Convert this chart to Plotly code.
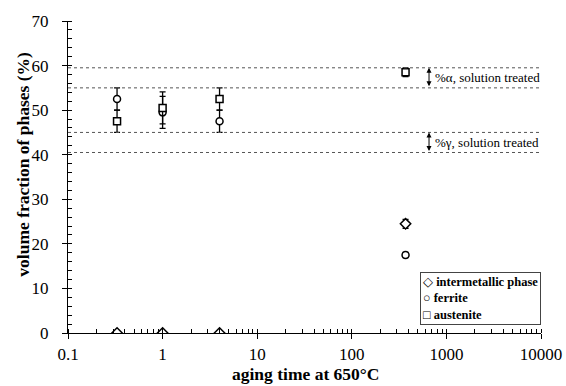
import plotly.graph_objects as go
import math

# Data
time_h = [0.33, 1, 4, 370]
intermetallic = [0, 0, 0, 24.5]
intermetallic_err = [0, 0, 0, 1.0]
ferrite = [52.5, 49.5, 47.5, 17.5]
ferrite_err = [2.5, 3.6, 2.5, 0.6]
austenite = [47.5, 50.5, 52.5, 58.5]
austenite_err = [2.5, 3.6, 2.5, 1.0]

alpha_band = [55, 59.5]
gamma_band = [40.5, 45]
alpha_label = "%α, solution treated"
gamma_label = "%γ, solution treated"
legend_names = ["intermetallic phase", "ferrite", "austenite"]
legend_symbols = ["◇", "○", "□"]
x_tickvals = [0.1, 1, 10, 100, 1000, 10000]
x_ticktext = ["0.1", "1", "10", "100", "1000", "10000"]
x_title = "aging time at 650°C"
y_title = "volume fraction of phases (%)"

FONT = "Liberation Serif, Times New Roman, serif"

fig = go.Figure()

def add(name, y, err, symbol, size):
    fig.add_trace(go.Scatter(
        x=time_h, y=y, mode="markers", name=name, showlegend=False,
        marker=dict(symbol=symbol, size=size, color="white",
                    line=dict(color="black", width=1.5)),
        error_y=dict(type="data", array=err, visible=True,
                     color="black", thickness=1.3, width=3),
    ))

add(legend_names[0], intermetallic, intermetallic_err, "diamond", 8)
add(legend_names[1], ferrite, ferrite_err, "circle", 7)
add(legend_names[2], austenite, austenite_err, "square", 7)

# invisible trace for overlay axes (crossing major ticks)
fig.add_trace(go.Scatter(x=[0.1], y=[0], xaxis="x2", yaxis="y2", mode="markers",
                         marker=dict(opacity=0), showlegend=False, hoverinfo="skip"))

# dotted reference lines
for yv in alpha_band + gamma_band:
    fig.add_shape(type="line", xref="paper", yref="y", x0=0, x1=1, y0=yv, y1=yv,
                  line=dict(color="#555", width=1, dash="dot"))

arrow_x = math.log10(655)
text_x = math.log10(720)
for band, label in [(alpha_band, alpha_label), (gamma_band, gamma_label)]:
    fig.add_annotation(x=arrow_x, y=band[1], ax=arrow_x, ay=band[0],
                       xref="x", yref="y", axref="x", ayref="y",
                       text="", showarrow=True, arrowhead=2, arrowside="end+start",
                       arrowsize=1, arrowwidth=1, arrowcolor="black")
    fig.add_annotation(x=text_x, y=(band[0] + band[1]) / 2, xref="x", yref="y",
                       text=label, showarrow=False, xanchor="left",
                       font=dict(family=FONT, size=13, color="black"))

# legend box
legend_text = "<br>".join(f"{s} <b>{n}</b>" for s, n in zip(legend_symbols, legend_names))
fig.add_annotation(x=1, y=0.026, xref="paper", yref="paper", xanchor="right", yanchor="bottom",
                   text=legend_text, showarrow=False, align="left",
                   font=dict(family=FONT, size=12.5, color="black"),
                   bordercolor="#444", borderwidth=1, borderpad=2, bgcolor="white")

# axis titles
fig.add_annotation(x=0.503, y=-0.132, xref="paper", yref="paper", xanchor="center", yanchor="middle",
                   text=f"<b>{x_title}</b>", showarrow=False,
                   font=dict(family=FONT, size=17.5, color="black"))
fig.add_annotation(x=-0.097, y=0.54, xref="paper", yref="paper", xanchor="center", yanchor="middle",
                   text=f"<b>{y_title}</b>", showarrow=False, textangle=-90,
                   font=dict(family=FONT, size=17.5, color="black"))

fig.update_layout(
    width=566, height=386,
    margin=dict(l=68, r=25, t=21, b=53, autoexpand=False),
    plot_bgcolor="white", paper_bgcolor="white",
    font=dict(family=FONT, color="black"),
    showlegend=False,
    xaxis=dict(
        type="log", range=[-1, 4], automargin=False,
        tickvals=x_tickvals, ticktext=x_ticktext,
        ticks="outside", ticklen=5, tickcolor="black", tickwidth=1,
        minor=dict(ticks="inside", ticklen=4, tickcolor="black", dtick="D1"),
        showline=True, linecolor="black", linewidth=1,
        showgrid=False, zeroline=False,
        tickfont=dict(size=17, family=FONT), ticklabelstandoff=1,
    ),
    yaxis=dict(
        range=[0, 70], dtick=10, automargin=False,
        ticks="outside", ticklen=5, tickcolor="black", tickwidth=1,
        minor=dict(ticks="inside", ticklen=4, tickcolor="black", dtick=2),
        showline=True, linecolor="black", linewidth=1,
        showgrid=False, zeroline=False,
        tickfont=dict(size=17, family=FONT), ticklabelstandoff=10,
    ),
    xaxis2=dict(type="log", range=[-1, 4], overlaying="x", anchor="y", automargin=False,
                tickvals=x_tickvals, ticks="inside", ticklen=4,
                tickcolor="black", showticklabels=False, showgrid=False, zeroline=False,
                showline=False),
    yaxis2=dict(range=[0, 70], overlaying="y", anchor="x", dtick=10, ticks="inside",
                ticklen=4, tickcolor="black", showticklabels=False, showgrid=False,
                zeroline=False, showline=False, automargin=False),
)

fig.write_html("out.html")
